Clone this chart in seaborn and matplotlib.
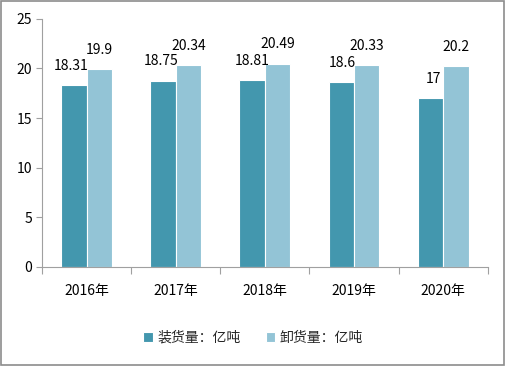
import matplotlib
matplotlib.use("Agg")
import matplotlib.pyplot as plt
import seaborn as sns
import pandas as pd
from matplotlib.patches import Rectangle

years = ["2016年", "2017年", "2018年", "2019年", "2020年"]
loading = [18.31, 18.75, 18.81, 18.6, 17]
unloading = [19.9, 20.34, 20.49, 20.33, 20.2]
series_names = ["装货量：亿吨", "卸货量：亿吨"]
colors = ["#4397AE", "#93C4D6"]
yticks = [0, 5, 10, 15, 20, 25]

sns.set_theme(style="white")
plt.rcParams['font.family'] = ['Noto Sans CJK SC', 'DejaVu Sans']

df = pd.DataFrame({
    "year": years * 2,
    "value": loading + unloading,
    "series": [series_names[0]] * len(years) + [series_names[1]] * len(years),
})

fig = plt.figure(figsize=(5.06, 3.66), dpi=100)
ax = fig.add_axes([0.083, 0.2705, 0.881, 0.678])
sns.barplot(data=df, x="year", y="value", hue="series", palette=colors,
            saturation=1, width=0.57, ax=ax, edgecolor="white", linewidth=0.8,
            legend=True)

ax.set_ylim(0, 25)
ax.set_xlim(-0.5, len(years) - 0.5)
ax.set_yticks(yticks)
ax.set_xlabel("")
ax.set_ylabel("")
ax.tick_params(axis="y", labelsize=10, length=4, width=0.8, color="#a0a0a0", left=True, pad=3)
ax.tick_params(axis="x", labelsize=10, length=0, pad=12)
for lab in ax.get_yticklabels() + ax.get_xticklabels():
    lab.set_color("black")
ax.set_xticks([i - 0.5 for i in range(len(years) + 1)], minor=True)
ax.tick_params(axis="x", which="minor", length=5, width=0.8, color="#a0a0a0", bottom=True)

for s in ["top", "right"]:
    ax.spines[s].set_visible(False)
for s in ["left", "bottom"]:
    ax.spines[s].set_color("#a0a0a0")
    ax.spines[s].set_linewidth(0.8)

for i, cont in enumerate(ax.containers):
    vals = loading if i == 0 else unloading
    labs = [f"{v:g}" for v in vals]
    texts = ax.bar_label(cont, labels=labs, padding=9, fontsize=10, color="black")
    if i == 0:
        for t in texts:
            t.set_ha("center")
            x, y = t.xy
            t.set_x(x)
            t.xyann = (t.xyann[0] - 2, t.xyann[1])

leg = ax.get_legend()
handles, labels = ax.get_legend_handles_labels()
leg.remove()
fig.legend(handles, labels, loc="center", bbox_to_anchor=(0.5, 0.077), ncol=2,
           frameon=False, fontsize=10, handlelength=0.7, handleheight=0.7,
           handletextpad=0.3, columnspacing=1.8)

fig.patches.append(Rectangle((0.002, 0.004), 0.994, 0.992, transform=fig.transFigure,
                             fill=False, edgecolor="#8c8c8c", linewidth=1.2))

fig.savefig("out.png", dpi=100)
